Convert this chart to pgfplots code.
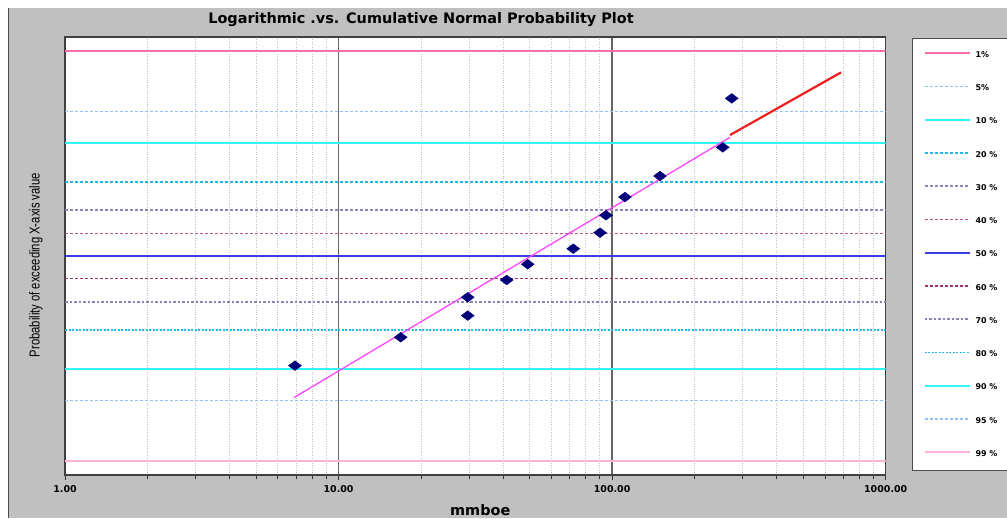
\documentclass[border=0pt]{standalone}
\usepackage{pgfplots}
\pgfplotsset{compat=1.18}
\usepackage{fontspec}
\setmainfont{Liberation Sans}
\newfontfamily\dvs{DejaVu Sans}
\newfontfamily\narrowf[FakeStretch=0.78]{Liberation Sans}
\definecolor{bg}{RGB}{192,192,192}
\definecolor{cA}{RGB}{245,110,170}
\definecolor{cZ}{RGB}{255,180,215}
\definecolor{cB}{RGB}{150,190,248}
\definecolor{cC}{RGB}{50,245,245}
\definecolor{cD}{RGB}{30,185,230}
\definecolor{cE}{RGB}{135,135,185}
\definecolor{cF}{RGB}{160,50,105}
\definecolor{cH}{RGB}{185,85,140}
\definecolor{cG}{RGB}{60,60,235}
\definecolor{navy}{RGB}{0,0,120}
\definecolor{fitm}{RGB}{255,70,255}
\definecolor{fitr}{RGB}{240,30,30}
\begin{document}
\begin{tikzpicture}
\fill[white] (0bp,0bp) rectangle (1007bp,518bp);
\fill[bg] (8bp,0bp) rectangle (1007bp,510bp);
\draw[black!70, line width=1bp] (8bp,0bp) -- (8bp,510bp);
\useasboundingbox (0bp,0bp) rectangle (1007bp,518bp);
\begin{axis}[
  scale only axis, width=820.7bp, height=438bp,
  at={(65bp,43bp)}, anchor=south west,
  xmode=log, log basis x=10,
  xmin=1, xmax=1000, ymin=-2.49, ymax=2.49,
  axis background/.style={fill=white},
  axis line style={draw=black!75, line width=1.3bp},
  xtick={1,10,100,1000}, xticklabels={1.00,10.00,100.00,1000.00},
  minor xtick={2,3,4,5,6,7,8,9,20,30,40,50,60,70,80,90,200,300,400,500,600,700,800,900},
  ytick=\empty,
  xtick pos=bottom,
  tick align=outside, major tick length=5bp, minor tick length=4bp,
  tick style={draw=black!80, line width=0.8bp},
  xmajorgrids, xminorgrids,
  major grid style={draw=black!60, line width=1.5bp},
  minor grid style={draw=black!25, dotted, line width=0.8bp},
  tick label style={font=\dvs\bfseries\fontsize{9.5}{10}\selectfont, yshift=-2bp},
  title={Logarithmic .vs. Cumulative Normal Probability Plot},
  title style={at={(axis description cs:0.4338,1)}, anchor=base, yshift=8bp, font=\dvs\bfseries\fontsize{14.5}{15}\selectfont},
  xlabel={mmboe},
  xlabel style={at={(axis description cs:0.506,0)}, anchor=base, yshift=-40bp, font=\dvs\bfseries\fontsize{14.5}{15}\selectfont},
  ylabel={Probability of exceeding X-axis value},
  ylabel style={at={(axis description cs:0,0.479)}, anchor=center, yshift=29bp, font=\narrowf\fontsize{14.5}{14.5}\selectfont},
  legend style={at={(axis description cs:1.0321,0.9977)}, anchor=north west,
    draw=black!70, line width=1bp, fill=white,
    inner xsep=11bp, inner ysep=0pt, row sep=0pt, column sep=5bp,
    nodes={inner sep=0pt, minimum height=33.25bp, text width=26bp,
      font=\dvs\bfseries\fontsize{8}{9}\selectfont}},
  legend image code/.code={\draw[#1] (0bp,2bp) -- (45bp,2bp);},
]
\addplot[draw=cA, line width=2bp] coordinates {(1,2.3263) (1000,2.3263)};
\addlegendentry{1\%}
\addplot[draw=cB, line width=1.3bp, dash pattern=on 3bp off 2bp] coordinates {(1,1.6449) (1000,1.6449)};
\addlegendentry{5\%}
\addplot[draw=cC, line width=2bp] coordinates {(1,1.2816) (1000,1.2816)};
\addlegendentry{10 \%}
\addplot[draw=cD, line width=1.3bp, dash pattern=on 3bp off 2bp] coordinates {(1,0.8416) (1000,0.8416)};
\addlegendentry{20 \%}
\addplot[draw=cE, line width=1.4bp, dash pattern=on 3bp off 2bp] coordinates {(1,0.5244) (1000,0.5244)};
\addlegendentry{30 \%}
\addplot[draw=cH, line width=1.5bp, dash pattern=on 3bp off 2bp] coordinates {(1,0.2533) (1000,0.2533)};
\addlegendentry{40 \%}
\addplot[draw=cG, line width=1.8bp] coordinates {(1,0) (1000,0)};
\addlegendentry{50 \%}
\addplot[draw=cF, line width=1.4bp, dash pattern=on 3bp off 2bp] coordinates {(1,-0.2533) (1000,-0.2533)};
\addlegendentry{60 \%}
\addplot[draw=cE, line width=1.4bp, dash pattern=on 2.5bp off 2bp] coordinates {(1,-0.5244) (1000,-0.5244)};
\addlegendentry{70 \%}
\addplot[draw=cD, line width=1.4bp, dash pattern=on 2bp off 1.5bp] coordinates {(1,-0.8416) (1000,-0.8416)};
\addlegendentry{80 \%}
\addplot[draw=cC, line width=2bp] coordinates {(1,-1.2816) (1000,-1.2816)};
\addlegendentry{90 \%}
\addplot[draw=cB, line width=1.3bp, dash pattern=on 3bp off 2bp] coordinates {(1,-1.6449) (1000,-1.6449)};
\addlegendentry{95 \%}
\addplot[draw=cZ, line width=2bp] coordinates {(1,-2.3263) (1000,-2.3263)};
\addlegendentry{99 \%}
\addplot[draw=fitm, line width=1.3bp, forget plot] coordinates {(6.87,-1.61) (269.7,1.349)};
\addplot[draw=fitr, line width=2.2bp, forget plot] coordinates {(269.7,1.375) (686.6,2.0875)};
\addplot[only marks, mark=diamond*, mark size=6.5bp, mark options={rotate=90, fill=navy, draw=navy}, forget plot] table {
x y
6.93 -1.247
16.87 -0.924
29.65 -0.678
29.65 -0.469
41.17 -0.273
49.13 -0.094
72.1 0.083
90.3 0.265
94.96 0.463
111.4 0.670
149.6 0.909
253.6 1.235
273.6 1.792
};
\end{axis}
\end{tikzpicture}
\end{document}
